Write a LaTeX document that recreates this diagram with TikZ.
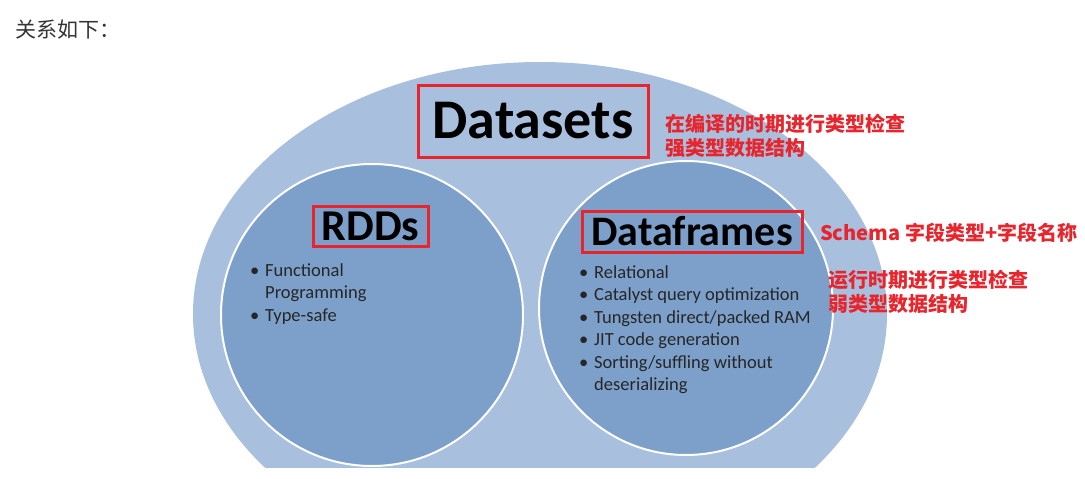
\documentclass[tikz,border=0pt]{standalone}
\usepackage{fontspec}
\setmainfont{Carlito}
\newfontfamily\cjk{Noto Sans CJK SC}
\usetikzlibrary{positioning}
\definecolor{OuterBlue}{HTML}{A8C0DE}
\definecolor{InnerBlue}{HTML}{7DA0CB}
\definecolor{MarkRed}{HTML}{E8242C}
\definecolor{BodyGray}{HTML}{262626}
\definecolor{NoteGray}{HTML}{333333}
\newcommand{\pt}{\makebox[15pt][l]{\textbullet}}
\newcommand{\ind}{\hspace*{15pt}}
\tikzset{
  set/.style={circle,fill=InnerBlue,draw=white,line width=2pt,inner sep=0pt},
  titlebox/.style={draw=MarkRed,line width=3pt,inner sep=0pt,font=\bfseries,text=black},
  points/.style={anchor=north west,inner sep=0pt,align=left,text=BodyGray,
                 font=\fontsize{18.5}{22.5}\selectfont},
  remark/.style={anchor=base west,inner sep=0pt,align=left,text=MarkRed,
                 font=\cjk\bfseries\fontsize{20}{24}\selectfont}
}
\begin{document}
\begin{tikzpicture}[x=1pt,y=-1pt]
  \useasboundingbox (0,0) rectangle (1085,479);
  \node[anchor=base west,inner sep=0pt,text=NoteGray,font=\cjk\fontsize{21}{24}\selectfont]
    (intro) at (15,37) {关系如下：};

  \begin{scope}
    \clip (0,0) rectangle (1085,467);
    \fill[OuterBlue] (540,314) ellipse [x radius=347, y radius=252];
  \end{scope}
  \node[set,minimum size=302pt] (rddset) at (372,315) {};
  \node[set,minimum size=294pt] (dfset) at (686,308) {};

  \node[titlebox,minimum width=230pt,minimum height=72pt,font=\bfseries\fontsize{56}{60}\selectfont]
    (datasets) at (533,121) {Datasets};
  \node[titlebox,minimum width=115pt,minimum height=40pt,font=\bfseries\fontsize{44}{48}\selectfont]
    (rdds) at (370.5,226) {RDDs};
  \node[titlebox,minimum width=220pt,minimum height=41pt,font=\bfseries\fontsize{42}{46}\selectfont]
    (dataframes) at (692,231.5) {Dataframes};

  \node[points] (rddlist) at (250,263)
    {\pt Functional\\ \ind Programming\\ \pt Type-safe};
  \node[points] (dflist) at (579,265)
    {\pt Relational\\ \pt Catalyst query optimization\\ \pt Tungsten direct/packed RAM\\
     \pt JIT code generation\\ \pt Sorting/suffling without\\ \ind deserializing};

  \node[remark] (dsnote) at (665,155) {在编译的时期进行类型检查\\强类型数据结构};
  \node[remark] (schema) at (820,240) {Schema 字段类型+字段名称};
  \node[remark] (dfnote) at (828,311) {运行时期进行类型检查\\弱类型数据结构};
\end{tikzpicture}
\end{document}
